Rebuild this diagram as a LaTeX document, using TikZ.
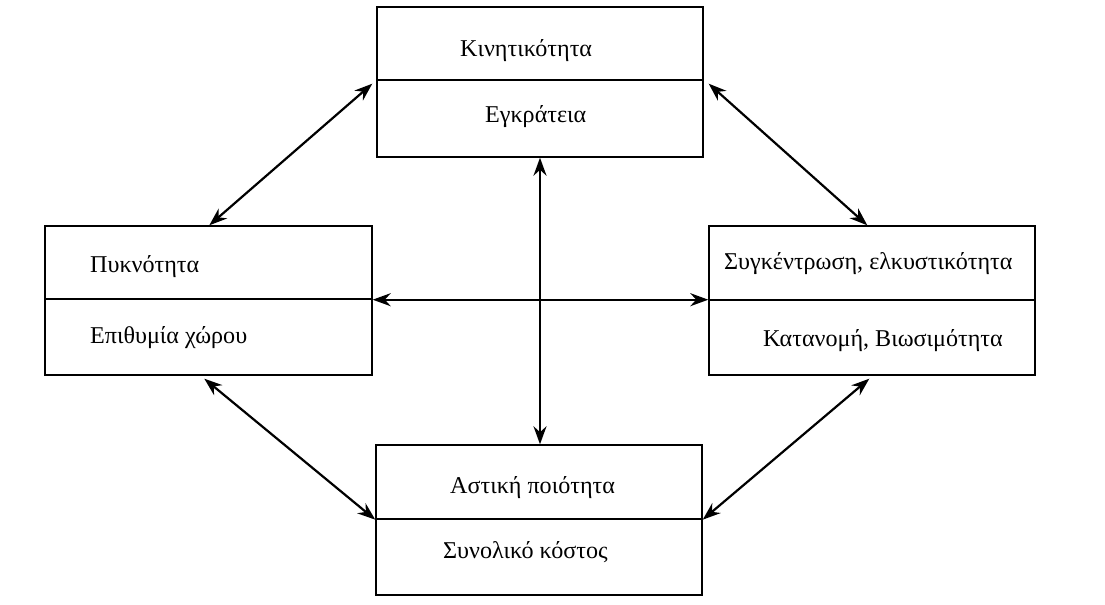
\documentclass[tikz,border=0pt]{standalone}
\usepackage{fontspec}
\setmainfont{Liberation Serif}
\usetikzlibrary{arrows.meta}
\begin{document}
\begin{tikzpicture}[x=1bp,y=-1bp,
  half/.style={draw, line width=1.4bp, rectangle, inner sep=0pt, minimum width=326bp},
  lbl/.style={anchor=base west, inner sep=0pt, font=\fontsize{24.2}{28}\selectfont},
  arr/.style={line width=2.2bp, {Stealth[length=18bp,width=13bp]}-{Stealth[length=18bp,width=13bp]}}]
\useasboundingbox (0,0) rectangle (1105,605);
% boxes
\node[half, minimum height=73bp] (T1) at (540,43.5) {};
\node[half, minimum height=77bp] (T2) at (540,118.5) {};
\node[half, minimum width=327bp, minimum height=73bp] (L1) at (208.5,262.5) {};
\node[half, minimum width=327bp, minimum height=76bp] (L2) at (208.5,337) {};
\node[half, minimum height=74bp] (R1) at (872,263) {};
\node[half, minimum height=75bp] (R2) at (872,337.5) {};
\node[half, minimum height=74bp] (B1) at (539,482) {};
\node[half, minimum height=76bp] (B2) at (539,557) {};
% labels
\node[lbl] (t1) at (460,57) {Κινητικότητα};
\node[lbl] (t2) at (485,123) {Εγκράτεια};
\node[lbl] (l1) at (90,273) {Πυκνότητα};
\node[lbl] (l2) at (90,343) {Επιθυμία χώρου};
\node[lbl] (r1) at (724,270) {Συγκέντρωση, ελκυστικότητα};
\node[lbl] (r2) at (763,346) {Κατανομή, Βιωσιμότητα};
\node[lbl] (b1) at (450,493) {Αστική ποιότητα};
\node[lbl] (b2) at (443,558) {Συνολικό κόστος};
% connectors
\coordinate (tl) at ([xshift=-4bp,yshift=-3bp]T1.south west);
\coordinate (tr) at ([xshift=5bp,yshift=-3bp]T1.south east);
\coordinate (ln) at ([xshift=165bp]L1.north west);
\coordinate (rn) at ([xshift=159bp]R1.north west);
\coordinate (ls) at ([xshift=160bp,yshift=-3bp]L2.south west);
\coordinate (rs) at ([xshift=161bp,yshift=-3bp]R2.south west);
\coordinate (hc) at (L1.south east);
\coordinate (vc) at (T2.south);
\draw[arr] (tl) -- (ln);
\draw[arr] (tr) -- (rn);
\draw[arr] (ls) -- (B1.south west);
\draw[arr] (rs) -- (B1.south east);
\draw[arr] (vc) -- (vc |- B1.north);
\draw[arr] (hc) -- (hc -| R1.west);
\end{tikzpicture}
\end{document}
